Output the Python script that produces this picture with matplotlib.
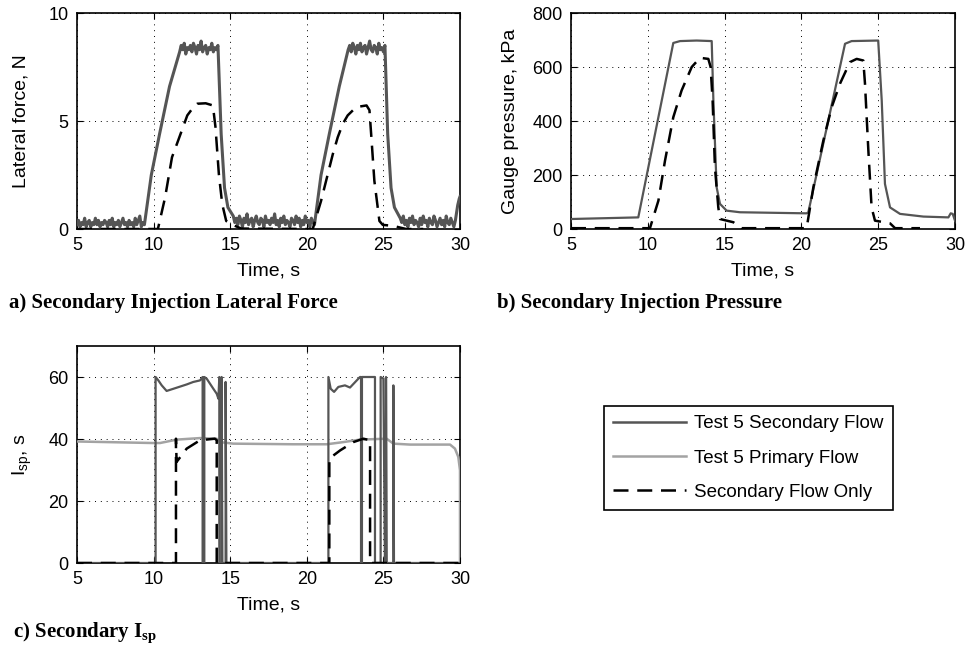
"""
plot.py - secondary injection tests: lateral force, pressure and Isp
"""
import numpy as np
import matplotlib
matplotlib.use('Agg')
import matplotlib.pyplot as plt
from matplotlib.lines import Line2D

plt.rcParams['font.family'] = ['Liberation Sans', 'DejaVu Sans']
plt.rcParams['mathtext.fontset'] = 'custom'
plt.rcParams['mathtext.rm'] = 'Liberation Sans'
plt.rcParams['mathtext.bf'] = 'Liberation Serif:bold'

# ── data ────────────────────────────────────────────────────
XTICKS = [5, 10, 15, 20, 25, 30]

def seg(t0, vals, dt=0.1):
    # typed samples at a fixed sample interval
    return [t0 + dt * i for i in range(len(vals))], list(vals)

# a) lateral force, test 5 secondary flow (noisy record)
force_base1 = [0.2, 0.4, 0.1, 0.3, 0.2, 0.5, 0.1, 0.3, 0.4, 0.1,
               0.3, 0.2, 0.5, 0.2, 0.4, 0.1, 0.3, 0.2, 0.4, 0.3,
               0.1, 0.4, 0.2, 0.5, 0.1, 0.3, 0.2, 0.4, 0.1, 0.3,
               0.5, 0.2, 0.3, 0.1, 0.4, 0.2, 0.3, 0.1, 0.5, 0.2,
               0.4, 0.6, 0.1, 0.3, 0.2]
force_plat1 = [8.2, 8.5, 8.3, 8.6, 8.1, 8.4, 8.3, 8.5, 8.2, 8.6,
               8.4, 8.1, 8.5, 8.3, 8.7, 8.2, 8.4, 8.5, 8.1, 8.4,
               8.3, 8.6, 8.2, 8.4, 8.3, 8.5]
force_base2 = [0.6, 0.3, 0.5, 0.2, 0.6, 0.4, 0.1, 0.5, 0.3, 0.7,
               0.2, 0.4, 0.5, 0.1, 0.4, 0.6, 0.3, 0.2, 0.5, 0.4,
               0.1, 0.6, 0.3, 0.4, 0.2, 0.5, 0.3, 0.7, 0.2, 0.4,
               0.1, 0.5, 0.3, 0.6, 0.2, 0.4, 0.3, 0.1, 0.5, 0.4,
               0.2, 0.6, 0.3, 0.5, 0.1, 0.4, 0.2, 0.6, 0.3, 0.4,
               0.1, 0.5, 0.3, 0.2]
force_plat2 = [8.3, 8.5, 8.2, 8.6, 8.4, 8.1, 8.5, 8.3, 8.6, 8.2,
               8.4, 8.5, 8.1, 8.4, 8.7, 8.3, 8.2, 8.5, 8.4, 8.1,
               8.6, 8.3, 8.4, 8.2, 8.5]
force_base3 = [0.5, 0.3, 0.6, 0.2, 0.4, 0.1, 0.5, 0.3, 0.6, 0.2,
               0.4, 0.3, 0.1, 0.5, 0.2, 0.6, 0.3, 0.4, 0.1, 0.5,
               0.3, 0.2, 0.6, 0.4, 0.1, 0.3, 0.5, 0.2, 0.4, 0.1,
               0.6, 0.3, 0.2, 0.5, 0.3, 0.1, 0.4]
force_rise1 = ([9.85, 10.39, 11.04], [2.5, 4.4, 6.6])
force_drop1 = ([14.41, 14.63, 14.85], [4.4, 1.9, 1.0])
force_rise2 = ([20.93, 21.47, 22.12], [2.5, 4.4, 6.6])
force_drop2 = ([25.28, 25.5, 25.72], [4.4, 1.9, 1.0])
force_end = ([29.85, 29.95, 30.0], [1.1, 1.4, 1.5])

# a) lateral force, secondary flow only
fonly_t = [5, 10.28, 10.75, 11.2, 11.6, 12.2, 12.6, 12.85, 13.4, 13.87, 14.04,
           14.26, 14.48, 14.74, 15.17, 15.72, 20.39, 20.5, 20.93, 21.26, 21.7,
           22.02, 22.35, 22.67, 23.22, 23.45, 23.9, 24.09, 24.2, 24.41, 24.74,
           24.96, 25.6, 26.48, 27.6]
fonly_v = [0, 0, 1.46, 3.32, 4.09, 5.26, 5.64, 5.8, 5.82, 5.72, 4.71,
           2.54, 1.15, 0.37, 0.19, 0.02, 0, 0.28, 1.3, 2.23, 3.47,
           4.25, 4.87, 5.26, 5.64, 5.67, 5.72, 5.5, 4.4, 2.23, 0.37,
           0.19, 0.15, 0, 0]

# b) gauge pressure, kPa
pres_t = [5.0, 9.38, 11.66, 12.1, 13.18, 14.16, 14.27, 14.48, 14.7, 15.13, 16.0,
          20.34, 20.45, 22.84, 23.27, 25.0, 25.23, 25.44, 25.77, 26.42, 27.94,
          29.57, 29.72, 29.85, 30.0]
pres_v = [37, 43, 689, 696, 698, 696, 476, 155, 93, 68, 62,
          58, 62, 686, 696, 698, 476, 167, 80, 56, 46,
          43, 58, 56, 31]
ponly_t = [5, 10.14, 10.69, 11.12, 11.66, 12.2, 12.86, 13.4, 13.94, 14.09, 14.22,
           14.37, 14.59, 14.7, 15.57, 15.89, 16.11, 20.34, 20.78, 21.43, 21.97,
           22.51, 23.16, 23.6, 24.03, 24.14, 24.36, 24.57, 24.79, 25.77, 26.1, 27.72]
ponly_v = [3, 3, 105, 253, 414, 513, 600, 634, 630, 600, 476,
           229, 80, 37, 25, 12, 3, 3, 155, 328, 451,
           538, 618, 630, 624, 538, 290, 80, 31, 21, 3, 3]

# c) Isp, s
isp_prim_t = [5.0, 9.98, 10.42, 11.5, 13.03, 14.12, 14.33, 15.2, 19.12, 21.3, 22.38,
              23.47, 25.21, 25.65, 26.74, 29.35, 29.67, 29.89, 30.0, 30.0]
isp_prim_v = [39.2, 38.7, 38.7, 39.8, 40.3, 40.1, 39.0, 38.5, 38.3, 38.3, 39.0,
              39.8, 40.1, 38.5, 38.2, 38.2, 36.9, 34.2, 29.9, 0]
isp_sec_t = [5, 10.13, 10.13, 10.31, 10.53, 10.85, 11.29, 12.16, 12.59, 13.03, 13.2,
             13.2, 13.31, 13.31, 13.46, 13.9, 14.12, 14.23, 14.29, 14.29, 14.44,
             14.44, 14.49, 14.7, 14.7, 14.75, 21.41, 21.41, 21.56, 21.78, 22.06,
             22.49, 22.82, 23.47, 23.54, 23.54, 23.6, 23.6, 24.45, 24.45, 24.82,
             24.82, 25.0, 25.1, 25.17, 25.17, 25.21, 25.65, 25.65, 25.69, 30]
isp_sec_v = [0, 0, 60, 58.9, 57.3, 55.5, 56.2, 57.6, 58.4, 58.9, 60,
             0, 0, 60, 59.5, 56.2, 54.6, 53, 60, 0, 0,
             60, 0, 0, 58.4, 0, 0, 60, 56.2, 55.2, 56.8,
             57.3, 56.6, 60, 60, 0, 0, 60, 60, 0, 0,
             60, 59.5, 0, 0, 60, 0, 0, 57.3, 0, 0]
isp_only_t = [5, 11.46, 11.46, 11.5, 12.16, 13.03, 14.0, 14.12, 14.12, 21.47, 21.47,
              22.17, 23.04, 23.69, 24.13, 24.13, 30]
isp_only_v = [0, 0, 40.1, 32.6, 36.9, 39.6, 40.1, 39.6, 0, 0, 33.7,
              36.3, 39.0, 40.1, 39.6, 0, 0]

LEGEND_LABELS = ['Test 5 Secondary Flow', 'Test 5 Primary Flow', 'Secondary Flow Only']

# ── assemble the noisy force trace ──────────────────────────
force_t, force_v = [], []
for part in [seg(5.0, force_base1), force_rise1, seg(11.7, force_plat1), force_drop1,
             seg(15.2, force_base2), force_rise2, seg(22.7, force_plat2), force_drop2,
             seg(26.1, force_base3), force_end]:
    force_t += part[0]
    force_v += part[1]

C_SEC = '#555555'
C_PRIM = '#a3a3a3'
DASH = (0, (6, 3.5))
TICK_FS = 13
LABEL_FS = 14

fig = plt.figure(figsize=(9.65, 6.51), dpi=100)
W, H = 965, 651

def add_ax(x0, y0, x1, y1):
    return fig.add_axes([x0 / W, 1 - y1 / H, (x1 - x0) / W, (y1 - y0) / H])

def style(ax, ylim, yticks, ylabel, ylab_x):
    ax.set_xlim(5, 30)
    ax.set_ylim(*ylim)
    ax.set_xticks(XTICKS)
    ax.set_yticks(yticks)
    ax.grid(True, color='black', linestyle=(0, (1, 5)), linewidth=0.7)
    ax.tick_params(direction='in', length=4, width=0.8, labelsize=TICK_FS,
                   top=True, right=True)
    ax.tick_params(axis='x', pad=6)
    ax.tick_params(axis='y', pad=6)
    for s in ax.spines.values():
        s.set_linewidth(1.2)
    ax.set_xlabel('Time, s', fontsize=LABEL_FS, labelpad=6)
    ax.set_ylabel(ylabel, fontsize=LABEL_FS)
    # right edge of the rotated y label at a fixed pixel column
    x0 = ax.get_position().x0 * W
    ax.yaxis.set_label_coords((ylab_x - x0) / (ax.get_position().width * W), 0.5)

ax_a = add_ax(77, 13, 460, 229)
ax_a.plot(force_t, force_v, color=C_SEC, lw=2.2, zorder=3)
ax_a.plot(fonly_t, fonly_v, color='black', lw=1.8, ls=DASH, zorder=4)
style(ax_a, (0, 10), [0, 5, 10], 'Lateral force, N', 30)

ax_b = add_ax(571, 13, 955, 229)
ax_b.plot(pres_t, pres_v, color=C_SEC, lw=1.6, zorder=3)
ax_b.plot(ponly_t, ponly_v, color='black', lw=1.8, ls=DASH, zorder=4)
style(ax_b, (0, 800), [0, 200, 400, 600, 800], 'Gauge pressure, kPa', 519)

ax_c = add_ax(77, 346, 460, 563)
ax_c.plot(isp_prim_t, isp_prim_v, color=C_PRIM, lw=1.8, zorder=3)
ax_c.plot(isp_sec_t, isp_sec_v, color=C_SEC, lw=1.6, zorder=4)
ax_c.plot(isp_only_t, isp_only_v, color='black', lw=1.8, ls=DASH, zorder=5)
style(ax_c, (0, 70), [0, 20, 40, 60], r'I$_\mathrm{sp}$, s', 34)

# captions
cap = dict(fontsize=15, fontweight='bold', family='Liberation Serif', va='center')
fig.text(9 / W, 1 - 303 / H, 'a) Secondary Injection Lateral Force', **cap)
fig.text(497 / W, 1 - 303 / H, 'b) Secondary Injection Pressure', **cap)
fig.text(13 / W, 1 - 633 / H, r'c) Secondary I$_\mathbf{sp}$', **cap)

# legend
handles = [Line2D([], [], color=C_SEC, lw=1.8),
           Line2D([], [], color=C_PRIM, lw=1.8),
           Line2D([], [], color='black', lw=1.8, ls=DASH)]
leg = fig.legend(handles, LEGEND_LABELS, loc='center',
                 bbox_to_anchor=(748.5 / W, 1 - 458 / H), fontsize=13.5,
                 handlelength=3.9, handletextpad=0.43, labelspacing=0.92,
                 borderpad=0.5, fancybox=False, framealpha=1)
leg.get_frame().set_edgecolor('black')
leg.get_frame().set_linewidth(1.2)

fig.savefig('out.png', dpi=100)
